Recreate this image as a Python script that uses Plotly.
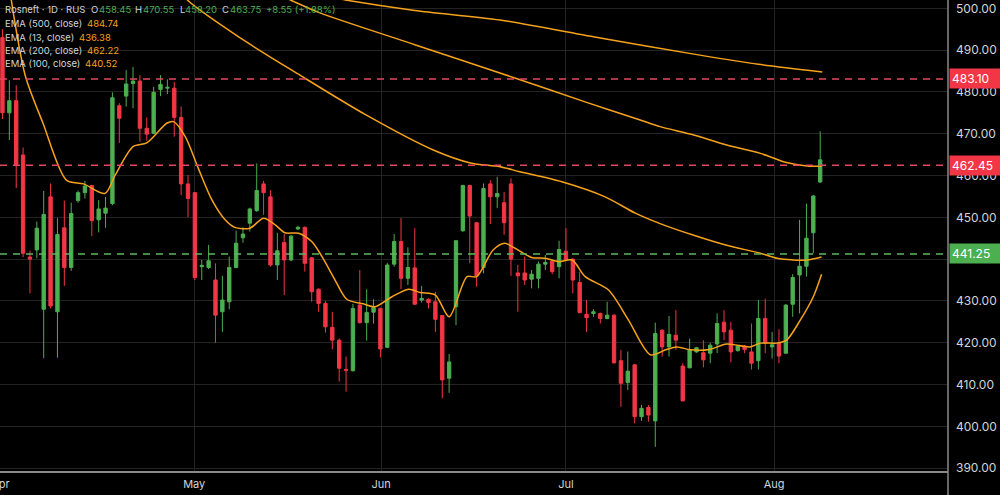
import plotly.graph_objects as go

# ---------------- data ----------------
candle_idx = list(range(120))
opens = [493.0, 475.0, 477.9, 464.9, 440.5, 442.2, 428.0, 454.9, 427.4, 447.5,
         438.0, 454.0, 455.9, 457.6, 449.4, 451.0, 453.3, 476.7, 479.0, 482.0,
         482.6, 471.3, 470.1, 480.6, 480.9, 480.9, 473.9, 458.0, 455.9, 438.2,
         438.0, 435.0, 427.4, 429.8, 438.0, 445.1, 448.6, 451.6, 458.0, 454.9,
         438.6, 444.0, 439.8, 447.2, 447.6, 440.3, 432.8, 429.4, 423.7, 420.6,
         413.6, 413.3, 429.0, 424.8, 427.3, 428.2, 418.9, 438.8, 444.2, 435.4,
         437.9, 430.2, 430.4, 429.8, 426.5, 411.5, 428.6, 446.8, 457.6, 448.7,
         438.0, 458.0, 454.9, 453.5, 458.0, 436.7, 436.7, 435.2, 435.4, 438.8,
         439.5, 438.2, 441.9, 440.0, 434.4, 426.8, 427.0, 427.0, 425.8, 426.6,
         415.7, 410.5, 414.7, 402.3, 404.5, 401.3, 423.0, 419.0, 421.8, 414.4,
         414.0, 417.8, 417.6, 417.5, 419.7, 424.9, 423.0, 418.1, 419.2, 417.8,
         415.7, 425.8, 419.0, 420.0, 417.5, 429.2, 436.2, 438.3, 446.3, 458.45]
highs = [495.0, 482.8, 481.6, 466.7, 442.0, 449.0, 456.3, 458.1, 449.8, 454.0,
         453.5, 456.4, 458.7, 457.8, 454.1, 454.9, 479.9, 477.3, 485.2, 486.0,
         484.0, 473.9, 481.2, 484.0, 483.0, 482.4, 476.5, 460.1, 456.0, 439.8,
         443.4, 439.0, 436.0, 440.6, 446.8, 447.6, 452.3, 462.9, 458.7, 456.5,
         446.3, 446.0, 445.8, 448.0, 447.8, 440.5, 433.0, 430.0, 427.4, 421.0,
         416.7, 429.3, 437.4, 432.8, 430.4, 428.4, 439.1, 446.0, 449.8, 442.8,
         447.4, 433.6, 430.6, 432.2, 426.6, 417.3, 444.6, 457.8, 457.8, 448.9,
         458.1, 458.9, 459.7, 456.1, 459.3, 438.6, 440.6, 437.4, 439.4, 441.0,
         439.7, 444.4, 447.4, 440.2, 437.0, 430.2, 428.0, 427.2, 429.8, 426.8,
         418.3, 417.9, 414.9, 405.1, 405.1, 424.8, 423.2, 426.4, 427.8, 415.1,
         421.0, 419.0, 420.6, 420.0, 427.0, 427.8, 425.0, 419.4, 419.4, 424.6,
         430.2, 430.5, 422.6, 423.2, 429.2, 436.4, 449.4, 453.3, 455.3, 470.55]
lows = [473.5, 468.5, 457.0, 440.5, 431.8, 440.2, 416.3, 428.2, 416.4, 433.6,
        437.2, 453.5, 454.5, 445.5, 446.4, 447.5, 452.9, 467.8, 476.5, 476.1,
        468.1, 468.3, 469.9, 479.0, 479.5, 469.3, 455.3, 450.0, 435.0, 435.0,
        437.6, 420.0, 422.6, 428.0, 437.8, 443.9, 446.6, 451.3, 450.6, 438.2,
        435.0, 431.4, 439.5, 447.0, 437.0, 429.8, 427.4, 422.4, 418.4, 410.7,
        408.3, 413.1, 424.6, 420.5, 424.6, 416.5, 418.7, 438.2, 432.8, 433.8,
        429.0, 429.6, 428.2, 422.6, 406.7, 408.0, 424.2, 446.5, 439.0, 433.4,
        436.6, 448.4, 452.2, 445.8, 436.0, 427.4, 433.8, 433.0, 433.0, 437.4,
        436.4, 435.4, 439.5, 431.8, 427.0, 422.6, 426.2, 424.6, 425.6, 415.0,
        404.7, 408.7, 400.7, 401.3, 401.1, 395.1, 416.7, 416.7, 418.3, 405.9,
        413.9, 417.6, 414.1, 415.1, 417.5, 420.6, 415.3, 417.9, 417.5, 413.6,
        413.6, 417.5, 416.2, 415.1, 417.3, 426.2, 427.0, 435.8, 441.4, 458.20]
closes = [475.0, 477.9, 462.5, 441.4, 440.0, 447.4, 450.7, 428.8, 445.9, 438.0,
          450.9, 455.9, 457.5, 449.2, 452.0, 452.2, 478.6, 473.7, 481.9, 482.6,
          471.3, 469.9, 479.9, 481.8, 481.1, 473.9, 458.0, 454.5, 435.6, 438.5,
          439.6, 426.6, 430.2, 438.0, 443.8, 446.0, 452.0, 456.4, 455.9, 438.6,
          442.0, 439.8, 445.5, 447.6, 439.0, 432.2, 429.4, 423.8, 420.6, 413.9,
          413.4, 428.2, 424.8, 427.2, 428.4, 418.5, 438.6, 444.2, 435.4, 438.0,
          429.2, 430.6, 429.6, 425.6, 411.1, 415.4, 444.4, 457.6, 450.3, 436.0,
          456.9, 454.9, 455.7, 448.7, 440.0, 436.0, 435.0, 436.4, 438.8, 439.2,
          437.0, 442.3, 439.8, 435.0, 427.2, 426.0, 427.4, 425.8, 426.6, 415.2,
          410.3, 413.2, 402.3, 404.3, 402.7, 422.2, 419.0, 422.0, 420.6, 406.1,
          418.3, 418.8, 415.9, 419.4, 424.6, 422.6, 417.8, 419.2, 418.4, 415.1,
          425.8, 419.9, 419.5, 416.8, 429.0, 435.6, 438.3, 445.0, 455.1, 463.75]

# EMA lines (candle position, value)
ema13_x = [1.0, 3.3, 5.9, 9.3, 11.8, 14.9, 16.4, 19.0, 21.0, 23.9, 24.9, 26.6, 28.5,
           30.5, 32.4, 33.8, 36.0, 38.0, 39.7, 41.1, 43.1, 45.0, 46.5, 48.4, 50.1,
           52.5, 54.2, 56.7, 59.1, 60.8, 63.0, 65.0, 67.6, 69.0, 71.4, 73.1, 74.6,
           77.0, 79.0, 80.9, 82.9, 84.8, 88.2, 91.1, 94.3, 96.5, 98.1, 100.1, 102.9,
           105.4, 108.8, 110.3, 112.7, 114.1, 116.1, 118.0, 119.2]
ema13_y = [505.0, 484.0, 472.5, 458.9, 458.0, 455.7, 460.1, 466.9, 467.8, 472.5, 472.9,
           469.3, 461.7, 454.1, 449.4, 447.6, 447.4, 449.8, 448.2, 446.3, 446.2,
           444.2, 440.6, 435.0, 430.4, 429.3, 428.6, 431.0, 432.8, 432.0, 431.4,
           426.2, 435.8, 435.8, 442.2, 443.8, 442.6, 440.4, 440.2, 439.4, 439.8,
           435.8, 432.6, 425.4, 417.1, 418.3, 419.0, 418.3, 418.4, 419.7, 419.0,
           419.9, 419.9, 420.6, 425.4, 431.0, 436.38]
ema100_x = [24.5, 26.9, 35.0, 43.3, 52.9, 62.7, 68.1, 72.4, 75.3, 81.4, 87.7, 92.1,
            95.7, 100.6, 105.4, 110.3, 112.7, 115.1, 117.1, 119.2]
ema100_y = [507.0, 502.0, 492.5, 484.0, 474.5, 466.1, 463.0, 462.1, 460.9, 458.5,
            454.9, 451.0, 448.5, 445.7, 443.3, 441.4, 440.2, 439.8, 439.8, 440.52]
ema200_x = [39.0, 41.9, 46.2, 60.0, 75.0, 85.0, 92.8, 95.7, 100.6, 105.4, 110.3,
            114.1, 117.1, 119.2]
ema200_y = [504.0, 502.0, 498.9, 491.3, 483.1, 477.5, 473.3, 471.7, 469.7, 467.3,
            465.3, 463.1, 462.3, 462.22]
ema500_x = [45.0, 49.9, 60.0, 72.4, 87.0, 101.5, 110.0, 119.3]
ema500_y = [503.5, 502.0, 499.5, 497.2, 492.9, 488.8, 486.6, 484.74]

levels = [483.10, 462.45, 441.25]
level_kinds = ["red", "red", "green"]

y_ticks = [390, 400, 410, 420, 430, 440, 450, 460, 470, 480, 490, 500]
month_pos = [-0.3, 27.9, 55.1, 82.0, 112.3]
month_labels = ["Apr", "May", "Jun", "Jul", "Aug"]

title_text = "Rosneft · 1D · RUS"
ohlc_keys = ["O", "H", "L", "C"]
ohlc_vals = ["458.45", "470.55", "458.20", "463.75"]
change_text = "+8.55 (+1.88%)"
legend_names = ["EMA (500, close)", "EMA (13, close)", "EMA (200, close)", "EMA (100, close)"]
legend_vals = ["484.74", "436.38", "462.22", "440.52"]

# ---------------- style ----------------
GREEN = "#4CAF50"
RED = "#F23645"
ORANGE = "#F7A21B"
TEXT = "#D1D4DC"
GRID = "#232323"
FONT = "Inter"
LEG_SIZE = 9.5

fig = go.Figure()

fig.add_trace(go.Candlestick(
    x=candle_idx, open=opens, high=highs, low=lows, close=closes,
    increasing=dict(line=dict(color=GREEN, width=1), fillcolor=GREEN),
    decreasing=dict(line=dict(color=RED, width=1), fillcolor=RED),
    whiskerwidth=0, showlegend=False, hoverinfo="skip",
))

for xs, ys in [(ema500_x, ema500_y), (ema200_x, ema200_y), (ema100_x, ema100_y), (ema13_x, ema13_y)]:
    fig.add_trace(go.Scatter(x=xs, y=ys, mode="lines",
                             line=dict(color=ORANGE, width=1.5, shape="spline", smoothing=0.8),
                             showlegend=False, hoverinfo="skip"))

shapes = []
for lv, kind in zip(levels, level_kinds):
    col = "#E5475F" if kind == "red" else "#5DB85F"
    shapes.append(dict(type="line", xref="paper", x0=0, x1=1, yref="y", y0=lv, y1=lv,
                       line=dict(color=col, width=1.5, dash="7px,6px"), layer="above"))
# right axis line extends down to the bottom of the page
shapes.append(dict(type="line", xref="paper", x0=1, x1=1, yref="paper", y0=-0.06, y1=1,
                   line=dict(color="#8A8A8A", width=1.5), layer="above"))
shapes.append(dict(type="line", xref="paper", x0=0, x1=1, yref="paper", y0=0, y1=0,
                   line=dict(color="#8A8A8A", width=2), layer="above"))

annotations = []
for lv, kind in zip(levels, level_kinds):
    col = RED if kind == "red" else GREEN
    annotations.append(dict(xref="paper", x=1, xanchor="left", xshift=1, yref="y", y=lv,
                            yanchor="middle", text=f"{lv:.2f}", showarrow=False,
                            bgcolor=col, font=dict(color="white", size=12, family=FONT),
                            width=46, align="left", borderpad=2))

PLOT_W, PLOT_H = 948, 472


def add_text(px, pyy, text, color):
    annotations.append(dict(xref="paper", x=px / PLOT_W, xanchor="left", yref="paper",
                            y=1 - pyy / PLOT_H, yanchor="middle", text=text, showarrow=False,
                            font=dict(size=LEG_SIZE, family=FONT, color=color)))


# header line: pixel positions of each token
add_text(2.5, 10, title_text, TEXT)
key_x = [89.0, 133.0, 177.5, 220.0]
val_x = [96.5, 141.0, 182.5, 228.0]
for k, v, kx, vx in zip(ohlc_keys, ohlc_vals, key_x, val_x):
    add_text(kx, 10, k, TEXT)
    add_text(vx, 10, v, GREEN)
add_text(264.0, 10, change_text, GREEN)

leg_val_x = [85.0, 77.3, 85.0, 83.3]
for i, (nm, vl) in enumerate(zip(legend_names, legend_vals)):
    yy = 23.8 + 13.3 * i
    add_text(2.5, yy, nm, TEXT)
    add_text(leg_val_x[i], yy, vl, ORANGE)

fig.update_layout(
    width=1000, height=495,
    margin=dict(l=0, r=52, t=0, b=23),
    paper_bgcolor="#000000", plot_bgcolor="#000000",
    font=dict(family=FONT, color=TEXT, size=11),
    shapes=shapes, annotations=annotations,
    xaxis=dict(range=[-0.36, 137.6], tickmode="array", tickvals=month_pos, ticktext=month_labels,
               showgrid=True, gridcolor=GRID, gridwidth=1, zeroline=False,
               rangeslider=dict(visible=False), showline=False, ticks="",
               tickfont=dict(size=11, color=TEXT, family=FONT), ticklabelstandoff=4,
               ticklabeloverflow="allow", automargin=False),
    yaxis=dict(range=[389.07, 501.99], side="right", tickmode="array", tickvals=y_ticks,
               ticktext=[f"{v:.2f}" for v in y_ticks], showgrid=True, gridcolor=GRID,
               gridwidth=1, zeroline=False, showline=False, ticks="",
               tickfont=dict(size=12, color=TEXT, family=FONT), ticklabelstandoff=7,
               automargin=False),
    hovermode=False,
)

fig.write_html("out.html")
